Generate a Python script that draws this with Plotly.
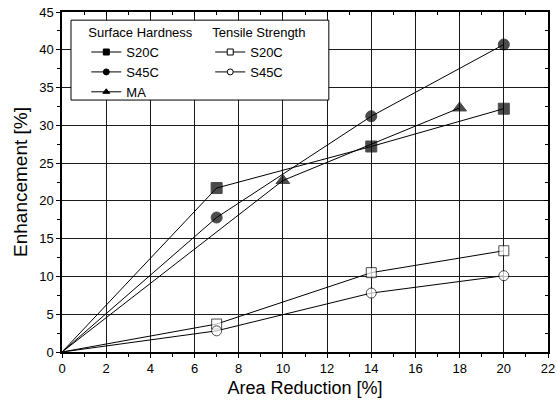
import plotly.graph_objects as go

# Surface hardness
sh_s20c_x = [0, 7, 14, 20]
sh_s20c_y = [0, 21.7, 27.2, 32.2]
sh_s45c_x = [0, 7, 14, 20]
sh_s45c_y = [0, 17.8, 31.2, 40.7]
sh_ma_x = [0, 10, 18]
sh_ma_y = [0, 22.7, 32.3]
# Tensile strength
ts_s20c_x = [0, 7, 14, 20]
ts_s20c_y = [0, 3.7, 10.5, 13.4]
ts_s45c_x = [0, 7, 14, 20]
ts_s45c_y = [0, 2.8, 7.8, 10.1]

FONT = "Arial, Liberation Sans, sans-serif"
BLACK = "#000000"

series = [
    ("S20C", sh_s20c_x, sh_s20c_y, "square", BLACK, 11, "legend"),
    ("S45C", sh_s45c_x, sh_s45c_y, "circle", BLACK, 11, "legend"),
    ("MA", sh_ma_x, sh_ma_y, "triangle-up", BLACK, 12, "legend"),
    ("S20C", ts_s20c_x, ts_s20c_y, "square", "white", 10, "legend2"),
    ("S45C", ts_s45c_x, ts_s45c_y, "circle", "white", 10, "legend2"),
]

fig = go.Figure()
for name, xs, ys, sym, fill, size, leg in series:
    sizes = [0 if xv == 0 else size for xv in xs]
    mk = dict(symbol=sym, color=fill, size=sizes, line=dict(color=BLACK, width=1))
    lmk = dict(symbol=sym, color=fill, size=6, line=dict(color=BLACK, width=1))
    fig.add_trace(go.Scatter(x=xs, y=ys, mode="lines+markers", name=name,
                             line=dict(color=BLACK, width=1), marker=mk,
                             showlegend=False))
    fig.add_trace(go.Scatter(x=[None], y=[None], mode="lines+markers", name=name,
                             line=dict(color=BLACK, width=1), marker=lmk,
                             legend=leg, showlegend=True))

# dummy trace for top/right inside ticks
fig.add_trace(go.Scatter(x=[None], y=[None], xaxis="x2", yaxis="y2", showlegend=False))

axis_common = dict(
    showline=True, linecolor=BLACK, linewidth=1.5, mirror=True,
    showgrid=True, gridcolor="#1a1a1a", gridwidth=1,
    ticks="outside", ticklen=4, tickcolor=BLACK, tickwidth=1,
    zeroline=False, automargin=False,
    tickfont=dict(family=FONT, size=13, color=BLACK),
)

fig.update_layout(
    width=557, height=405,
    margin=dict(l=62, r=9, t=12, b=53),
    paper_bgcolor="white", plot_bgcolor="white",
    font=dict(family=FONT, size=12, color=BLACK),
    xaxis=dict(range=[0, 22], dtick=2, tick0=0, ticklabeloverflow="allow",
               minor=dict(dtick=1, ticks="outside", ticklen=3, tickcolor=BLACK, showgrid=False),
               title=dict(text="Area Reduction [%]", font=dict(family=FONT, size=18, color=BLACK), standoff=6),
               **axis_common),
    yaxis=dict(range=[0, 45], dtick=5, tick0=0,
               minor=dict(dtick=2.5, ticks="outside", ticklen=3, tickcolor=BLACK, showgrid=False),
               title=dict(text="Enhancement [%]", font=dict(family=FONT, size=19, color=BLACK), standoff=7),
               **axis_common),
    xaxis2=dict(overlaying="x", side="top", range=[0, 22], dtick=2, tick0=0,
                showgrid=False, showticklabels=False, ticks="inside", ticklen=4,
                tickcolor=BLACK, zeroline=False, showline=False, automargin=False,
                minor=dict(dtick=1, ticks="inside", ticklen=3, tickcolor=BLACK)),
    yaxis2=dict(overlaying="y", side="right", range=[0, 45], dtick=5, tick0=0,
                showgrid=False, showticklabels=False, ticks="inside", ticklen=4,
                tickcolor=BLACK, zeroline=False, showline=False, automargin=False,
                minor=dict(dtick=2.5, ticks="inside", ticklen=3, tickcolor=BLACK)),
    legend=dict(x=0.05, y=0.976, xanchor="left", yanchor="top",
                bgcolor="rgba(0,0,0,0)", borderwidth=0,
                title=dict(text="Surface Hardness", font=dict(family=FONT, size=13, color=BLACK)),
                font=dict(family=FONT, size=13, color=BLACK), itemwidth=30,
                tracegroupgap=0),
    legend2=dict(x=0.305, y=0.976, xanchor="left", yanchor="top",
                 bgcolor="rgba(0,0,0,0)", borderwidth=0,
                 title=dict(text="Tensile Strength", font=dict(family=FONT, size=13, color=BLACK)),
                 font=dict(family=FONT, size=13, color=BLACK), itemwidth=30,
                 tracegroupgap=0),
    shapes=[dict(type="rect", xref="paper", yref="paper",
                 x0=0.0185, x1=0.549, y0=0.741, y1=0.976,
                 fillcolor="white", line=dict(color=BLACK, width=1), layer="above")],
)

fig.write_html("out.html", config={"displayModeBar": False},
               post_script="document.body.style.margin='0';document.body.style.overflow='hidden';")
